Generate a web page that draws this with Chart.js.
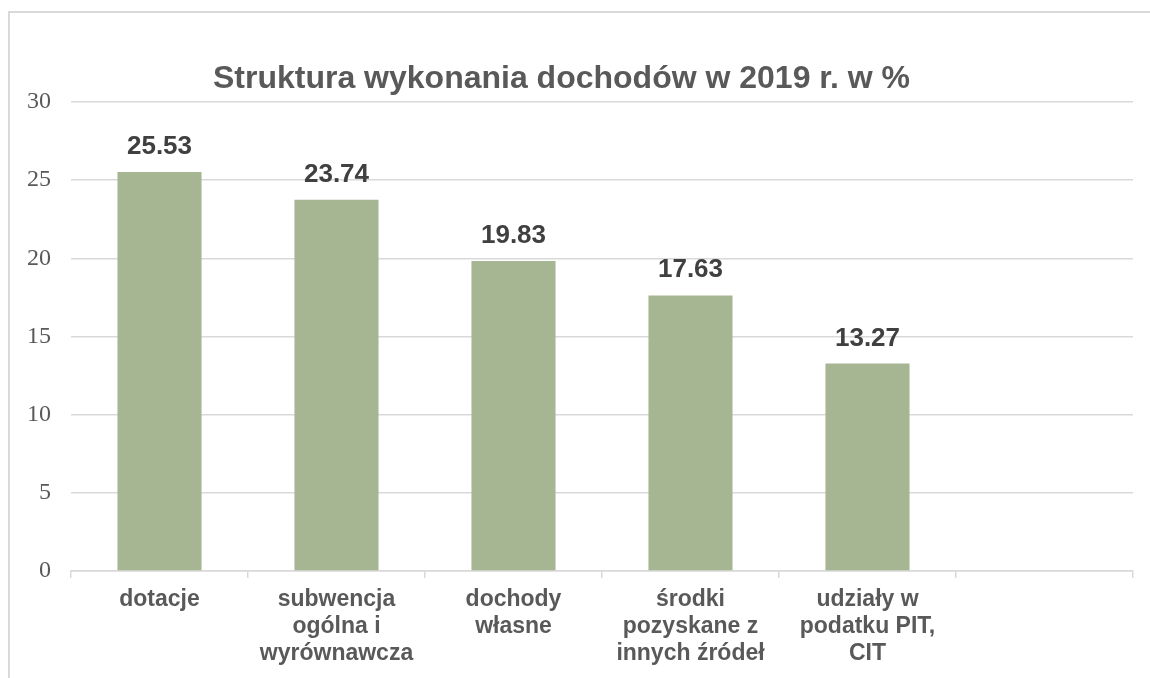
<!DOCTYPE html>
<html lang="pl">
<head>
<meta charset="utf-8">
<title>Struktura wykonania dochodów w 2019 r. w %</title>
<script src="https://cdn.jsdelivr.net/npm/chart.js@4/dist/chart.umd.min.js"></script>
<style>
  html, body { margin: 0; padding: 0; background: #fff; overflow: hidden; }
  #wrap { position: relative; width: 1150px; height: 678px; overflow: hidden; }
  #frame {
    position: absolute; left: 8px; top: 11px; width: 1300px; height: 900px;
    border-top: 2px solid #d9d9d9; border-left: 2px solid #d9d9d9;
  }
  #box { position: absolute; left: -10px; top: 0; width: 1152px; height: 678px; }
</style>
</head>
<body>
<div id="wrap">
  <div id="frame"></div>
  <div id="box"><canvas id="chart" width="1152" height="678"></canvas></div>
</div>
<script>
const categories = [
  ["dotacje"],
  ["subwencja", "ogólna i", "wyrównawcza"],
  ["dochody", "własne"],
  ["środki", "pozyskane z", "innych źródeł"],
  ["udziały w", "podatku PIT,", "CIT"],
  ""
];
const values = [25.53, 23.74, 19.83, 17.63, 13.27, null];
const yTicks = [0, 5, 10, 15, 20, 25, 30];

// value labels above the bars
const valueLabels = {
  id: "valueLabels",
  afterDatasetsDraw(chart) {
    const ctx = chart.ctx;
    const meta = chart.getDatasetMeta(0);
    ctx.save();
    ctx.font = "bold 26px 'Liberation Sans', Arial, sans-serif";
    ctx.fillStyle = "#404040";
    ctx.textAlign = "center";
    ctx.textBaseline = "alphabetic";
    meta.data.forEach((bar, i) => {
      if (values[i] == null) return;
      ctx.fillText(values[i].toFixed(2), bar.x, bar.y - 18);
    });
    ctx.restore();
  }
};

new Chart(document.getElementById("chart"), {
  type: "bar",
  data: {
    labels: categories,
    datasets: [{
      data: values,
      backgroundColor: "#a6b592",
      borderWidth: 0,
      categoryPercentage: 1,
      barPercentage: 0.475
    }]
  },
  options: {
    responsive: false,
    animation: false,
    layout: { padding: { left: 0, right: 9, top: 0, bottom: 0 } },
    plugins: {
      legend: { display: false },
      tooltip: { enabled: false },
      title: {
        display: true,
        text: "Struktura wykonania dochodów w 2019 r. w %",
        color: "#595959",
        font: { family: "'Liberation Sans', Arial, sans-serif", size: 32, weight: "bold", lineHeight: 1.2 },
        padding: { top: 60, bottom: 3.6 }
      }
    },
    scales: {
      x: {
        grid: { display: true, drawOnChartArea: false, drawTicks: true, tickLength: 7, color: "#d9d9d9", lineWidth: 1.5, offset: true },
        border: { display: true, color: "#d9d9d9", width: 1.5 },
        ticks: {
          autoSkip: false, maxRotation: 0, minRotation: 0, padding: 8,
          color: "#595959",
          font: { family: "'Liberation Sans', Arial, sans-serif", size: 23, weight: "bold", lineHeight: 1.17 }
        },
        afterFit(scale) { scale.height = 107; }
      },
      y: {
        min: 0, max: 30,
        afterBuildTicks(scale) { scale.ticks = yTicks.map(v => ({ value: v })); },
        grid: { color: "#d9d9d9", lineWidth: 1.5, drawTicks: false },
        border: { display: false },
        ticks: {
          padding: 20,
          color: "#595959",
          font: { family: "'Liberation Serif', 'Times New Roman', serif", size: 24 }
        },
        afterFit(scale) { scale.width = 81; }
      }
    }
  },
  plugins: [valueLabels]
});
</script>
</body>
</html>
